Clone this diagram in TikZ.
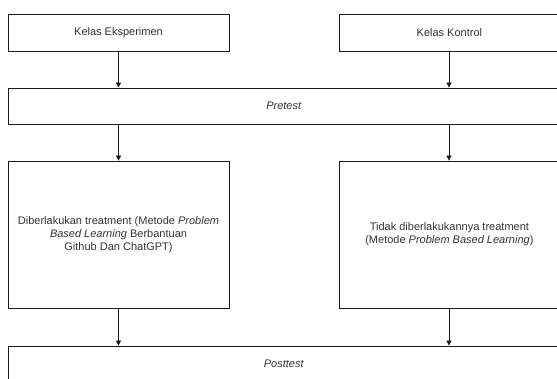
\documentclass[tikz,border=0pt]{standalone}
\usepackage{fontspec}
\setmainfont{Liberation Sans}
\usetikzlibrary{arrows.meta}
\newcommand{\leftpart}[1]{\makebox[220pt]{#1}\hspace*{41pt}}
\begin{document}
\begin{tikzpicture}[x=1pt,y=-1pt,
  box/.style={draw=black!90, line width=0.8pt, fill=white, inner sep=0pt,
    font=\fontsize{11}{13}\selectfont, text=black!80, align=center},
  arr/.style={-{Triangle[length=5pt,width=5pt]}, line width=0.8pt, draw=black!90}]
\useasboundingbox (0,0) rectangle (557,379);
\clip (0,0) rectangle (557,379);
\fill[white] (0,0) rectangle (557,379);
\node[box, minimum width=221pt, minimum height=37pt] (ke) at (118.5,32.5) {Kelas Eksperimen};
\node[box, anchor=west, minimum width=261pt, minimum height=37pt] (kk) at (339,32.5) {\leftpart{Kelas Kontrol}};
\node[box, anchor=west, minimum width=592pt, minimum height=36pt] (pre) at (8,106) {\makebox[551pt]{\textit{Pretest}}\hspace*{41pt}};
\node[box, minimum width=221pt, minimum height=147pt] (tl) at (118.5,234.5)
  {Diberlakukan treatment (Metode \textit{Problem}\\\textit{Based Learning} Berbantuan\\Github Dan ChatGPT)};
\node[box, anchor=west, minimum width=261pt, minimum height=147pt] (tr) at (339,234.5)
  {\leftpart{\begin{tabular}{@{}c@{}}Tidak diberlakukannya treatment\\(Metode \textit{Problem Based Learning})\end{tabular}}};
\node[box, anchor=west, minimum width=592pt, minimum height=36pt] (post) at (8,364) {\makebox[551pt]{\textit{Posttest}}\hspace*{41pt}};
\coordinate (ka) at (449,0);
\draw[arr] (ke.south) -- (ke.south |- pre.north);
\draw[arr] (ka |- kk.south) -- (ka |- pre.north);
\draw[arr] (ke.south |- pre.south) -- (tl.north);
\draw[arr] (ka |- pre.south) -- (ka |- tr.north);
\draw[arr] (tl.south) -- (tl.south |- post.north);
\draw[arr] (ka |- tr.south) -- (ka |- post.north);
\end{tikzpicture}
\end{document}
